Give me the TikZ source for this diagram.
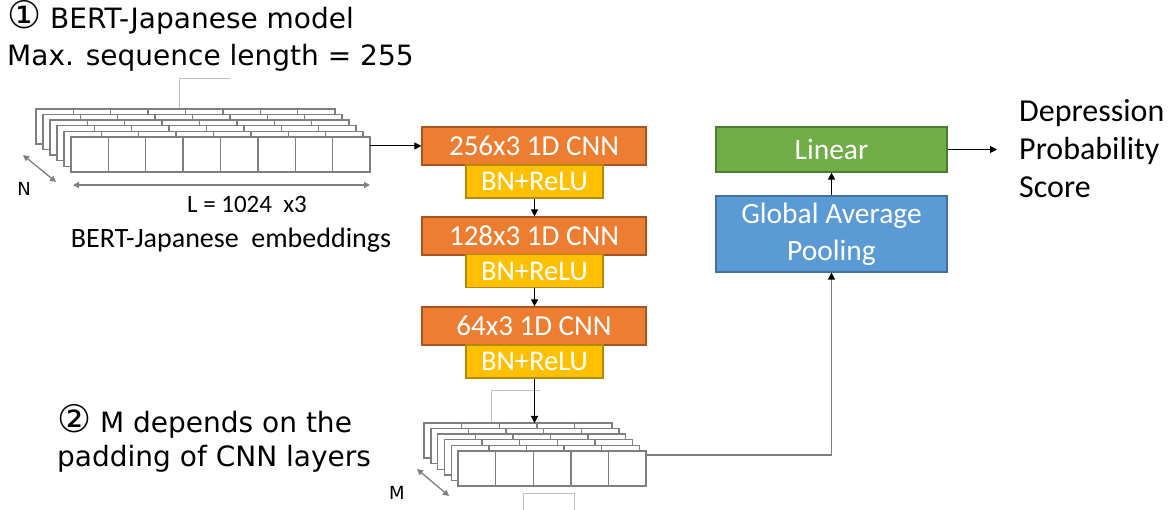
\documentclass[tikz,border=0pt]{standalone}
\usepackage{fontspec}
\setmainfont{Carlito}
\newfontfamily\notefont{DejaVu Sans}
\newfontfamily\circfont{DejaVu Sans}
\usetikzlibrary{arrows.meta}
\definecolor{cnnfill}{HTML}{ED7D31}
\definecolor{cnnline}{HTML}{A9541E}
\definecolor{bnfill}{HTML}{FFC000}
\definecolor{bnline}{HTML}{B38A00}
\definecolor{linfill}{HTML}{70AD47}
\definecolor{linline}{HTML}{4E7A31}
\definecolor{gapfill}{HTML}{5B9BD5}
\definecolor{gapline}{HTML}{41719C}
\definecolor{stackgray}{HTML}{7F7F7F}
\definecolor{lightgray}{HTML}{C0C0C0}
\tikzset{
  layer/.style={draw=stackgray, line width=1.4pt, fill=white},
  cnnbox/.style={draw=cnnline, fill=cnnfill, line width=1.2pt, minimum width=224pt, minimum height=38pt, inner sep=0pt, text=white, font=\fontsize{29}{34}\selectfont},
  bnbox/.style={draw=bnline, fill=bnfill, line width=1.2pt, minimum width=137pt, minimum height=33pt, inner sep=0pt, text=white, font=\fontsize{28.5}{30}\selectfont},
  linbox/.style={draw=linline, fill=linfill, line width=1.2pt, minimum width=231pt, minimum height=45pt, inner sep=0pt, text=white, font=\fontsize{29.5}{37}\selectfont},
  gapbox/.style={draw=gapline, fill=gapfill, line width=1.2pt, minimum width=231pt, minimum height=76pt, inner sep=0pt, text=white, align=center, font=\fontsize{29.5}{37}\selectfont},
  conn/.style={draw=black, line width=1pt, -{Triangle[width=7pt,length=7pt]}},
  graycon/.style={draw=stackgray, line width=1.2pt, -{Triangle[width=7pt,length=7pt,color=black]}},
  dimarrow/.style={draw=stackgray, line width=1.3pt, {Triangle[width=6pt,length=6pt]}-{Triangle[width=6pt,length=6pt]}},
  bracket/.style={draw=lightgray, line width=0.9pt},
  ghost/.style={inner sep=0pt, anchor=north west}
}
\begin{document}
\begin{tikzpicture}[x=1pt,y=-1pt]
\useasboundingbox[fill=white] (0,0) rectangle (1173,510);

% notes (base anchor = last line)
\node[anchor=base west, align=left, inner sep=0pt, font=\notefont\fontsize{28}{37}\selectfont] (note1) at (7,66)
  {{\circfont\fontsize{38}{37}\selectfont ①} BERT-Japanese model\\Max. sequence length = 255};
\node[anchor=base west, align=left, inner sep=0pt, font=\notefont\fontsize{28}{35}\selectfont] (note2) at (57,467)
  {{\circfont\fontsize{38}{35}\selectfont ②} M depends on the\\padding of CNN layers};

% bracket above stack 1
\draw[bracket] (179,109) -- (179,78) -- (230,78);

% stack 1
\foreach \k in {0,...,5} {
  \pgfmathsetmacro\xa{36+7*\k}
  \pgfmathsetmacro\ya{109+5.6*\k}
  \draw[layer] (\xa,\ya) rectangle ++(299,35);
  \foreach \c in {1,...,7} \draw[layer] ({\xa+\c*37.375},\ya) -- ++(0,35);
}
\node[ghost, minimum width=334pt, minimum height=63pt] (stack1) at (36,109) {};
\draw[dimarrow] (23,155) -- (56,182);
\node[font=\notefont\fontsize{18}{20}\selectfont, inner sep=0pt] (nlab) at (24,189) {N};
\draw[dimarrow] (73,185) -- (370,185);
\node[anchor=base, inner sep=0pt, font=\fontsize{25}{28}\selectfont] (llab) at (247,213) {L = 1024~~x3};
\node[anchor=base, inner sep=0pt, font=\fontsize{28}{32}\selectfont] (emblab) at (231,248) {BERT-Japanese~~embeddings};

% CNN column
\node[cnnbox] (c1) at (534,146) {256x3 1D CNN};
\node[bnbox] (b1) at (534.5,181.5) {BN+ReLU};
\node[cnnbox] (c2) at (534,236) {128x3 1D CNN};
\node[bnbox] (b2) at (534.5,271) {BN+ReLU};
\node[cnnbox] (c3) at (534,326) {64x3 1D CNN};
\node[bnbox] (b3) at (534.5,361.5) {BN+ReLU};

% brackets around stack 2
\draw[bracket] (491,423) -- (491,390) -- (540,390);
\draw[bracket] (523,510) -- (523,493) -- (574,493) -- (574,510);

% stack 2
\foreach \k in {0,...,5} {
  \pgfmathsetmacro\xa{424+6.8*\k}
  \pgfmathsetmacro\ya{423+5.6*\k}
  \draw[layer] (\xa,\ya) rectangle ++(188,35);
  \foreach \c in {1,...,4} \draw[layer] ({\xa+\c*37.6},\ya) -- ++(0,35);
}
\node[ghost, minimum width=222pt, minimum height=63pt] (stack2) at (424,423) {};
\draw[dimarrow] (417,469) -- (449,496);
\node[font=\notefont\fontsize{18}{20}\selectfont, inner sep=0pt] (mlab) at (397,493) {M};

% right column
\node[gapbox] (gap) at (831.5,234) {Global Average\\Pooling};
\node[linbox] (lin) at (831.5,149.5) {Linear};
\node[anchor=base west, align=left, inner sep=0pt, font=\fontsize{32}{38}\selectfont] (outlab) at (1019,198)
  {Depression\\Probability\\Score};

% connectors
\coordinate (s1out) at (370,146);
\coordinate (s2out) at (646,455);
\coordinate (outpt) at (997,149.5);
\draw[conn] (s1out) -- (c1.west |- s1out);
\draw[conn] (b1.south) -- (c2.north -| b1.south);
\draw[conn] (b2.south) -- (c3.north -| b2.south);
\draw[conn] (b3.south) -- (stack2.north -| b3.south);
\draw[graycon] (s2out) -| (gap.south);
\draw[conn] (gap.north) -- (lin.south);
\draw[conn] (lin.east) -- (outpt);
\end{tikzpicture}
\end{document}
